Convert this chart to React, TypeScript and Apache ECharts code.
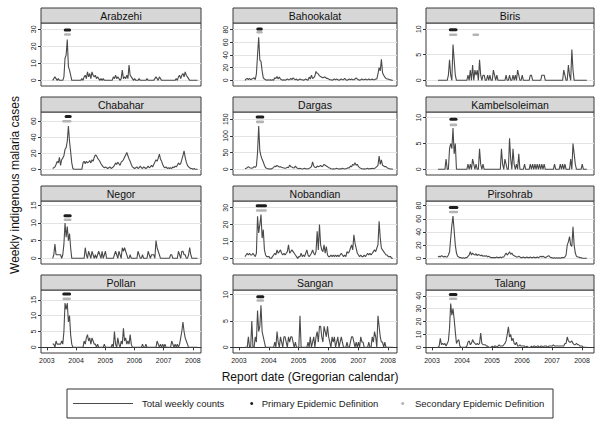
import React, { useEffect, useRef } from "react";
import * as echarts from "echarts";

const FONT = "Liberation Sans, Arial, sans-serif";

// Weekly series sampled every 1/26 year starting at 2003.2
const START_YEAR = 2003.2;
const STEP = 1 / 26;

const districts = [
  "Arabzehi", "Bahookalat", "Biris",
  "Chabahar", "Dargas", "Kambelsoleiman",
  "Negor", "Nobandian", "Pirsohrab",
  "Pollan", "Sangan", "Talang",
];

const arabzehi = [
  0, 1, 2, 1, 0, 1, 0, 0, 0, 0,
  2, 13, 15, 24, 8, 6, 3, 0, 0, 0,
  0, 0, 0, 0, 0, 0, 1, 0, 2, 3,
  1, 5, 2, 4, 1, 5, 3, 2, 3, 1,
  2, 1, 0, 1, 0, 1, 0, 0, 0, 0,
  0, 0, 0, 0, 2, 1, 3, 1, 2, 1,
  0, 1, 6, 1, 2, 1, 3, 1, 9, 3,
  2, 1, 0, 1, 0, 0, 0, 1, 0, 0,
  0, 0, 0, 0, 1, 0, 0, 0, 0, 0,
  0, 1, 2, 1, 0, 2, 1, 0, 0, 0,
  0, 0, 0, 0, 0, 0, 0, 0, 0, 0,
  1, 0, 2, 3, 1, 3, 4, 2, 5, 3,
  2, 1, 0, 0, 0, 0, 0, 0, 0, 0,
];
const bahookalat = [
  0, 2, 3, 1, 3, 1, 2, 3, 4, 1,
  10, 40, 68, 32, 30, 15, 4, 2, 1, 0,
  1, 0, 1, 0, 1, 0, 4, 3, 6, 2,
  5, 2, 1, 0, 1, 0, 1, 2, 1, 1,
  3, 1, 4, 2, 1, 2, 0, 1, 2, 1,
  1, 0, 1, 2, 1, 0, 5, 2, 8, 3,
  4, 7, 14, 11, 10, 7, 6, 5, 4, 5,
  5, 3, 3, 2, 1, 1, 0, 1, 2, 1,
  2, 1, 0, 1, 2, 1, 1, 3, 1, 0,
  1, 2, 1, 2, 1, 1, 2, 4, 2, 1,
  0, 1, 2, 1, 1, 2, 1, 1, 2, 1,
  1, 2, 1, 1, 2, 2, 10, 20, 15, 33,
  12, 8, 5, 3, 2, 2, 1, 1, 0, 0,
];
const biris = [
  0, 0, 0, 0, 0, 0, 0, 0, 0, 1,
  4, 1, 0, 7, 4, 1, 0, 0, 0, 0,
  0, 0, 0, 0, 0, 0, 1, 0, 2, 0,
  3, 0, 2, 1, 2, 0, 4, 1, 0, 1,
  1, 0, 0, 1, 0, 1, 0, 0, 2, 1,
  0, 1, 0, 0, 0, 0, 0, 0, 0, 1,
  0, 0, 1, 0, 0, 1, 0, 1, 0, 2,
  1, 0, 0, 1, 0, 0, 0, 0, 0, 0,
  1, 1, 0, 0, 0, 0, 0, 0, 0, 0,
  1, 1, 1, 0, 0, 0, 0, 0, 0, 0,
  0, 0, 0, 0, 0, 0, 0, 0, 0, 2,
  1, 0, 0, 3, 1, 0, 6, 2, 0, 0,
  0, 0, 0, 0, 0, 0, 0, 0, 0, 0,
];
const chabahar = [
  1, 2, 3, 6, 10, 8, 15, 5, 12, 14,
  17, 25, 27, 35, 54, 35, 22, 8, 1, 0,
  0, 0, 0, 0, 0, 0, 0, 8, 10, 7,
  10, 8, 9, 11, 8, 12, 10, 15, 18, 17,
  14, 12, 10, 7, 5, 3, 2, 3, 2, 1,
  2, 3, 1, 2, 3, 5, 8, 6, 9, 7,
  5, 9, 10, 12, 15, 18, 21, 17, 13, 10,
  6, 3, 2, 1, 2, 3, 1, 2, 4, 2,
  1, 3, 2, 1, 2, 4, 2, 3, 5, 3,
  6, 9, 12, 10, 14, 19, 13, 10, 6, 3,
  2, 3, 1, 2, 1, 2, 1, 3, 2, 4,
  3, 5, 8, 6, 7, 12, 17, 23, 15, 9,
  5, 3, 2, 1, 1, 0, 1, 0, 0, 0,
];
const dargas = [
  2, 3, 5, 8, 5, 4, 3, 5, 8, 6,
  10, 50, 130, 55, 40, 30, 22, 12, 5, 3,
  2, 1, 2, 1, 3, 6, 10, 8, 12, 9,
  7, 8, 6, 5, 4, 3, 4, 6, 5, 13,
  8, 7, 5, 4, 10, 5, 3, 2, 3, 2,
  1, 2, 3, 2, 1, 2, 3, 5, 8, 22,
  10, 6, 5, 10, 8, 9, 12, 8, 10, 15,
  12, 10, 8, 5, 4, 2, 1, 2, 1, 2,
  3, 2, 1, 2, 1, 3, 2, 1, 2, 3,
  5, 4, 10, 8, 15, 12, 20, 12, 15, 8,
  5, 3, 2, 1, 2, 1, 2, 3, 1, 2,
  2, 3, 2, 3, 5, 8, 12, 40, 15, 28,
  12, 10, 8, 8, 5, 3, 2, 1, 1, 0,
];
const kambelsoleiman = [
  0, 0, 0, 0, 0, 0, 0, 2, 0, 0,
  4, 5, 4, 8, 3, 5, 0, 0, 0, 0,
  0, 0, 0, 0, 0, 0, 1, 0, 1, 0,
  2, 1, 0, 1, 0, 0, 4, 1, 0, 1,
  0, 0, 0, 0, 0, 0, 0, 0, 0, 0,
  0, 0, 0, 0, 0, 4, 1, 0, 2, 1,
  0, 0, 6, 2, 0, 4, 1, 0, 1, 0,
  3, 0, 0, 0, 0, 1, 0, 0, 0, 0,
  1, 0, 1, 0, 1, 0, 1, 0, 1, 0,
  1, 0, 1, 0, 0, 0, 0, 0, 0, 0,
  0, 1, 0, 0, 0, 0, 1, 0, 1, 0,
  1, 0, 0, 0, 0, 2, 0, 5, 3, 1,
  0, 0, 0, 0, 0, 1, 0, 0, 0, 0,
];
const negor = [
  0, 1, 4, 1, 1, 1, 1, 1, 0, 1,
  4, 10, 6, 9, 5, 7, 3, 0, 0, 0,
  0, 0, 0, 0, 0, 0, 0, 0, 0, 3,
  1, 0, 2, 1, 0, 2, 1, 0, 1, 0,
  1, 2, 1, 0, 2, 0, 1, 2, 0, 0,
  0, 0, 0, 0, 0, 1, 2, 1, 0, 2,
  1, 0, 3, 2, 3, 2, 1, 0, 0, 1,
  0, 0, 0, 0, 0, 0, 2, 1, 0, 0,
  1, 0, 0, 0, 0, 2, 1, 0, 1, 1,
  1, 0, 5, 3, 2, 1, 0, 0, 0, 0,
  0, 0, 0, 0, 0, 1, 1, 0, 0, 0,
  0, 0, 2, 1, 0, 2, 2, 1, 1, 0,
  0, 1, 3, 1, 0, 0, 0, 0, 0, 0,
];
const nobandian = [
  1, 2, 3, 2, 3, 2, 2, 3, 2, 1,
  3, 25, 15, 20, 26, 12, 17, 5, 2, 1,
  1, 1, 0, 0, 1, 2, 3, 2, 5, 3,
  4, 5, 3, 2, 3, 2, 3, 4, 8, 3,
  4, 5, 4, 3, 2, 1, 0, 1, 1, 3,
  1, 2, 1, 3, 5, 2, 1, 2, 3, 5,
  3, 2, 4, 16, 5, 20, 8, 5, 4, 8,
  3, 7, 2, 1, 1, 2, 1, 2, 1, 2,
  1, 2, 1, 2, 3, 2, 1, 2, 1, 4,
  3, 4, 6, 8, 5, 14, 9, 6, 3, 2,
  1, 2, 1, 1, 2, 1, 2, 3, 2, 3,
  2, 3, 4, 5, 4, 6, 8, 22, 12, 6,
  5, 4, 3, 2, 2, 1, 1, 1, 0, 0,
];
const pirsohrab = [
  2, 3, 2, 4, 3, 2, 3, 2, 2, 5,
  10, 30, 50, 64, 42, 20, 8, 3, 2, 1,
  1, 0, 1, 0, 1, 1, 3, 5, 10, 5,
  8, 6, 5, 7, 4, 6, 5, 4, 5, 3,
  4, 3, 4, 2, 3, 2, 1, 1, 1, 1,
  1, 2, 1, 1, 2, 1, 2, 2, 5, 8,
  5, 7, 10, 6, 8, 5, 4, 3, 2, 2,
  3, 2, 1, 1, 2, 1, 1, 2, 1, 1,
  2, 1, 1, 2, 1, 1, 2, 1, 2, 3,
  2, 3, 2, 1, 2, 3, 4, 2, 1, 1,
  0, 1, 0, 1, 0, 1, 0, 1, 1, 1,
  2, 5, 20, 25, 33, 20, 18, 48, 20, 8,
  3, 2, 2, 1, 1, 0, 0, 0, 0, 0,
];
const pollan = [
  1, 1, 0, 2, 1, 1, 1, 1, 2, 1,
  5, 14, 12, 14, 8, 10, 4, 1, 0, 0,
  0, 0, 0, 0, 0, 0, 0, 0, 2, 1,
  3, 4, 2, 3, 1, 3, 2, 1, 1, 0,
  1, 0, 0, 0, 0, 0, 1, 0, 0, 0,
  0, 0, 0, 1, 0, 5, 1, 0, 3, 1,
  0, 2, 1, 6, 2, 3, 1, 2, 1, 4,
  1, 0, 0, 0, 0, 0, 0, 0, 0, 0,
  1, 0, 0, 1, 0, 0, 0, 0, 0, 0,
  0, 0, 0, 2, 1, 0, 1, 0, 1, 0,
  1, 0, 0, 0, 0, 0, 2, 1, 0, 1,
  0, 1, 0, 1, 3, 5, 8, 5, 3, 2,
  1, 0, 0, 0, 0, 0, 0, 0, 0, 0,
];
const sangan = [
  0, 0, 0, 2, 0, 0, 5, 0, 0, 2,
  1, 7, 3, 4, 8, 3, 2, 1, 0, 0,
  0, 0, 0, 0, 0, 0, 1, 0, 3, 1,
  0, 2, 1, 0, 2, 2, 1, 0, 2, 1,
  2, 2, 1, 0, 1, 0, 0, 0, 6, 0,
  0, 0, 0, 0, 0, 1, 0, 2, 0, 1,
  2, 0, 2, 3, 1, 4, 4, 2, 1, 4,
  3, 2, 4, 2, 1, 0, 2, 1, 2, 0,
  1, 2, 0, 1, 2, 1, 0, 0, 0, 1,
  0, 0, 1, 2, 2, 1, 0, 1, 0, 1,
  0, 2, 1, 1, 0, 0, 0, 0, 1, 0,
  0, 2, 1, 3, 2, 0, 6, 4, 2, 1,
  1, 0, 1, 0, 0, 0, 0, 0, 0, 0,
];
const talang = [
  0, 1, 7, 2, 3, 2, 3, 1, 3, 5,
  15, 34, 25, 30, 22, 12, 3, 5, 6, 1,
  0, 0, 0, 0, 0, 1, 4, 5, 2, 3,
  6, 4, 3, 2, 3, 2, 3, 11, 3, 2,
  2, 2, 1, 1, 0, 0, 0, 1, 0, 1,
  1, 0, 1, 2, 1, 1, 1, 2, 3, 5,
  10, 16, 8, 10, 5, 7, 3, 2, 4, 1,
  1, 2, 1, 1, 1, 1, 0, 1, 0, 0,
  0, 1, 0, 1, 1, 0, 1, 1, 0, 1,
  1, 0, 1, 1, 1, 0, 1, 1, 1, 1,
  2, 1, 1, 1, 1, 1, 1, 1, 1, 1,
  3, 3, 8, 5, 4, 4, 5, 3, 2, 2,
  3, 2, 2, 1, 1, 1, 0, 0, 0, 0,
];

const weeklyCounts = [
  arabzehi, bahookalat, biris,
  chabahar, dargas, kambelsoleiman,
  negor, nobandian, pirsohrab,
  pollan, sangan, talang,
];

// y tick labels per panel
const yTicks = [
  [0, 10, 20, 30], [0, 20, 40, 60, 80], [0, 5, 10],
  [0, 20, 40, 60], [0, 50, 100, 150], [0, 5, 10],
  [0, 5, 10, 15], [0, 10, 20, 30], [0, 20, 40, 60, 80],
  [0, 5, 10, 15], [0, 5, 10], [0, 10, 20, 30, 40],
];
// top of each panel's y range
const yTop = [33.7, 90.5, 11.2, 71.5, 171.7, 11.1, 16.2, 34, 87, 18.1, 10.9, 44.5];
// marker levels
const primaryLevel = [29.6, 81, 9.9, 65.8, 157, 9.7, 12.0, 31.2, 77, 16.8, 9.6, 41];
const secondaryLevel = [26.9, 76, 8.9, 60, 142, 8.6, 10.9, 28.4, 70.3, 15.3, 8.9, 37.7];

// epidemic periods [start, end] in decimal years
const primaryPeriods = [
  [[2003.59, 2003.82]],
  [[2003.59, 2003.79]],
  [[2003.57, 2003.84]],
  [[2003.62, 2003.84]],
  [[2003.57, 2003.84]],
  [[2003.59, 2003.84]],
  [[2003.58, 2003.84]],
  [[2003.57, 2003.93]],
  [[2003.57, 2003.87]],
  [[2003.54, 2003.82]],
  [[2003.59, 2003.84]],
  [[2003.57, 2003.84]],
];
const secondaryPeriods = [
  [[2003.59, 2003.82], [2004.56, 2004.58]],
  [[2003.59, 2003.79]],
  [[2003.57, 2003.84], [2004.35, 2004.57]],
  [[2003.53, 2003.84]],
  [[2003.57, 2003.84]],
  [[2003.59, 2003.84], [2005.37, 2005.39]],
  [[2003.58, 2003.84]],
  [[2003.57, 2003.93]],
  [[2003.57, 2003.87], [2007.61, 2007.63]],
  [[2003.54, 2003.82]],
  [[2003.59, 2003.84], [2005.9, 2005.92]],
  [[2003.57, 2003.84]],
];

const xTicks = [2003, 2004, 2005, 2006, 2007, 2008];

const COLS = [
  { left: 41, right: 201, xmax: 2008.28 },
  { left: 233, right: 397, xmax: 2008.3 },
  { left: 426, right: 594, xmax: 2008.4 },
];
const ROW_PITCH = 89;
const HEADER_TOP = 8;
const HEADER_H = 15;
const PLOT_BOTTOM = 86;

function capShrink(p: number[]): number[] {
  const [a, b] = p;
  if (b - a <= 0.08) {
    const m = (a + b) / 2;
    return [m - 0.002, m + 0.002];
  }
  return [a + 0.04, b - 0.04];
}

export default function App() {
  const ref = useRef<HTMLDivElement>(null);
  useEffect(() => {
    if (!ref.current) return;
    const chart = echarts.init(ref.current, null, { renderer: "svg" });
    const grid: any[] = [];
    const xAxis: any[] = [];
    const yAxis: any[] = [];
    const series: any[] = [];
    const graphic: any[] = [];

    districts.forEach((name, k) => {
      const r = Math.floor(k / 3);
      const c = k % 3;
      const col = COLS[c];
      const hTop = HEADER_TOP + ROW_PITCH * r;
      const top = hTop + HEADER_H;
      const bottom = PLOT_BOTTOM + ROW_PITCH * r;
      grid.push({
        left: col.left,
        top,
        width: col.right - col.left,
        height: bottom - top,
        show: true,
        borderColor: "#3a3a3a",
        borderWidth: 1,
        backgroundColor: "#ffffff",
      });
      xAxis.push({
        gridIndex: k,
        type: "value",
        min: 2002.8,
        max: col.xmax,
        show: r === 3,
        axisLine: { show: true, lineStyle: { color: "#333", width: 1 } },
        axisTick: { show: true, length: 3, customValues: xTicks, lineStyle: { color: "#333" } },
        axisLabel: {
          customValues: xTicks,
          formatter: (v: number) => String(Math.round(v)),
          fontSize: 7,
          color: "#222",
          margin: 4,
          fontFamily: FONT,
        },
        splitLine: { show: false },
      });
      const yt = yTop[k];
      yAxis.push({
        gridIndex: k,
        type: "value",
        min: -0.099 * yt,
        max: yt,
        axisLine: { show: false },
        axisTick: { show: true, length: 3, customValues: yTicks[k], lineStyle: { color: "#333" } },
        axisLabel: {
          customValues: yTicks[k],
          formatter: (v: number) => String(Math.round(v)),
          rotate: 90,
          fontSize: 7,
          color: "#222",
          margin: 4,
          fontFamily: FONT,
        },
        splitLine: { show: true, lineStyle: { color: "#e3e3e3", width: 1 } },
      });
      series.push({
        type: "line",
        xAxisIndex: k,
        yAxisIndex: k,
        data: weeklyCounts[k].map((v, i) => [START_YEAR + i * STEP, v]),
        showSymbol: false,
        symbol: "none",
        lineStyle: { color: "#4a4a4a", width: 1.1 },
        silent: true,
        z: 2,
      });
      secondaryPeriods[k].forEach((p) => {
        const [a, b] = capShrink(p);
        series.push({
          type: "line",
          xAxisIndex: k,
          yAxisIndex: k,
          data: [[a, secondaryLevel[k]], [b, secondaryLevel[k]]],
          showSymbol: false,
          symbol: "none",
          lineStyle: { color: "#b4b4b4", width: 2.6, cap: "round" },
          silent: true,
          z: 3,
        });
      });
      primaryPeriods[k].forEach((p) => {
        const [a, b] = capShrink(p);
        series.push({
          type: "line",
          xAxisIndex: k,
          yAxisIndex: k,
          data: [[a, primaryLevel[k]], [b, primaryLevel[k]]],
          showSymbol: false,
          symbol: "none",
          lineStyle: { color: "#1e1e1e", width: 3, cap: "round" },
          silent: true,
          z: 4,
        });
      });
      graphic.push({
        type: "rect",
        shape: { x: col.left, y: hTop, width: col.right - col.left, height: HEADER_H },
        style: { fill: "#d7d7d7", stroke: "#3a3a3a", lineWidth: 1 },
        silent: true,
      });
      graphic.push({
        type: "text",
        x: (col.left + col.right) / 2,
        y: hTop + HEADER_H / 2 + 0.5,
        style: {
          text: name,
          fontSize: 10.5,
          fontWeight: "normal",
          fontFamily: FONT,
          fill: "#111",
          align: "center",
          verticalAlign: "middle",
          textAlign: "center",
          textVerticalAlign: "middle",
        },
        silent: true,
      });
    });

    // axis titles
    graphic.push({
      type: "text",
      x: 15,
      y: 185,
      rotation: Math.PI / 2,
      style: {
        text: "Weekly indigenous malaria cases",
        fontSize: 12,
        fontFamily: FONT,
        fill: "#111",
        align: "center",
        verticalAlign: "middle",
        textAlign: "center",
        textVerticalAlign: "middle",
      },
      silent: true,
    });
    graphic.push({
      type: "text",
      x: 310,
      y: 377,
      style: {
        text: "Report date (Gregorian calendar)",
        fontSize: 12,
        fontFamily: FONT,
        fill: "#111",
        align: "center",
        verticalAlign: "middle",
        textAlign: "center",
        textVerticalAlign: "middle",
      },
      silent: true,
    });

    // legend box
    const ly = 403.5;
    const legendText = (text: string, x: number) => ({
      type: "text",
      x,
      y: ly,
      style: {
        text,
        fontSize: 9.5,
        fontFamily: FONT,
        fill: "#222",
        align: "left",
        verticalAlign: "middle",
        textAlign: "left",
        textVerticalAlign: "middle",
      },
      silent: true,
    });
    graphic.push({
      type: "rect",
      shape: { x: 67, y: 389, width: 486, height: 29 },
      style: { fill: "#fff", stroke: "#333", lineWidth: 1 },
      silent: true,
    });
    graphic.push({
      type: "line",
      shape: { x1: 73, y1: ly, x2: 133, y2: ly },
      style: { stroke: "#4a4a4a", lineWidth: 1.1 },
      silent: true,
    });
    graphic.push(legendText("Total weekly counts", 142));
    graphic.push({
      type: "circle",
      shape: { cx: 251.7, cy: ly, r: 1.5 },
      style: { fill: "#1e1e1e" },
      silent: true,
    });
    graphic.push(legendText("Primary Epidemic Definition", 261.7));
    graphic.push({
      type: "circle",
      shape: { cx: 402.7, cy: ly, r: 1.5 },
      style: { fill: "#b4b4b4" },
      silent: true,
    });
    graphic.push(legendText("Secondary Epidemic Definition", 415));

    chart.setOption({
      animation: false,
      backgroundColor: "#ffffff",
      textStyle: { fontFamily: FONT },
      grid,
      xAxis,
      yAxis,
      series,
      graphic,
    });
    return () => {
      chart.dispose();
    };
  }, []);
  return (
    <div
      ref={ref}
      style={{ position: "fixed", left: 0, top: 0, width: 600, height: 424 }}
    />
  );
}
